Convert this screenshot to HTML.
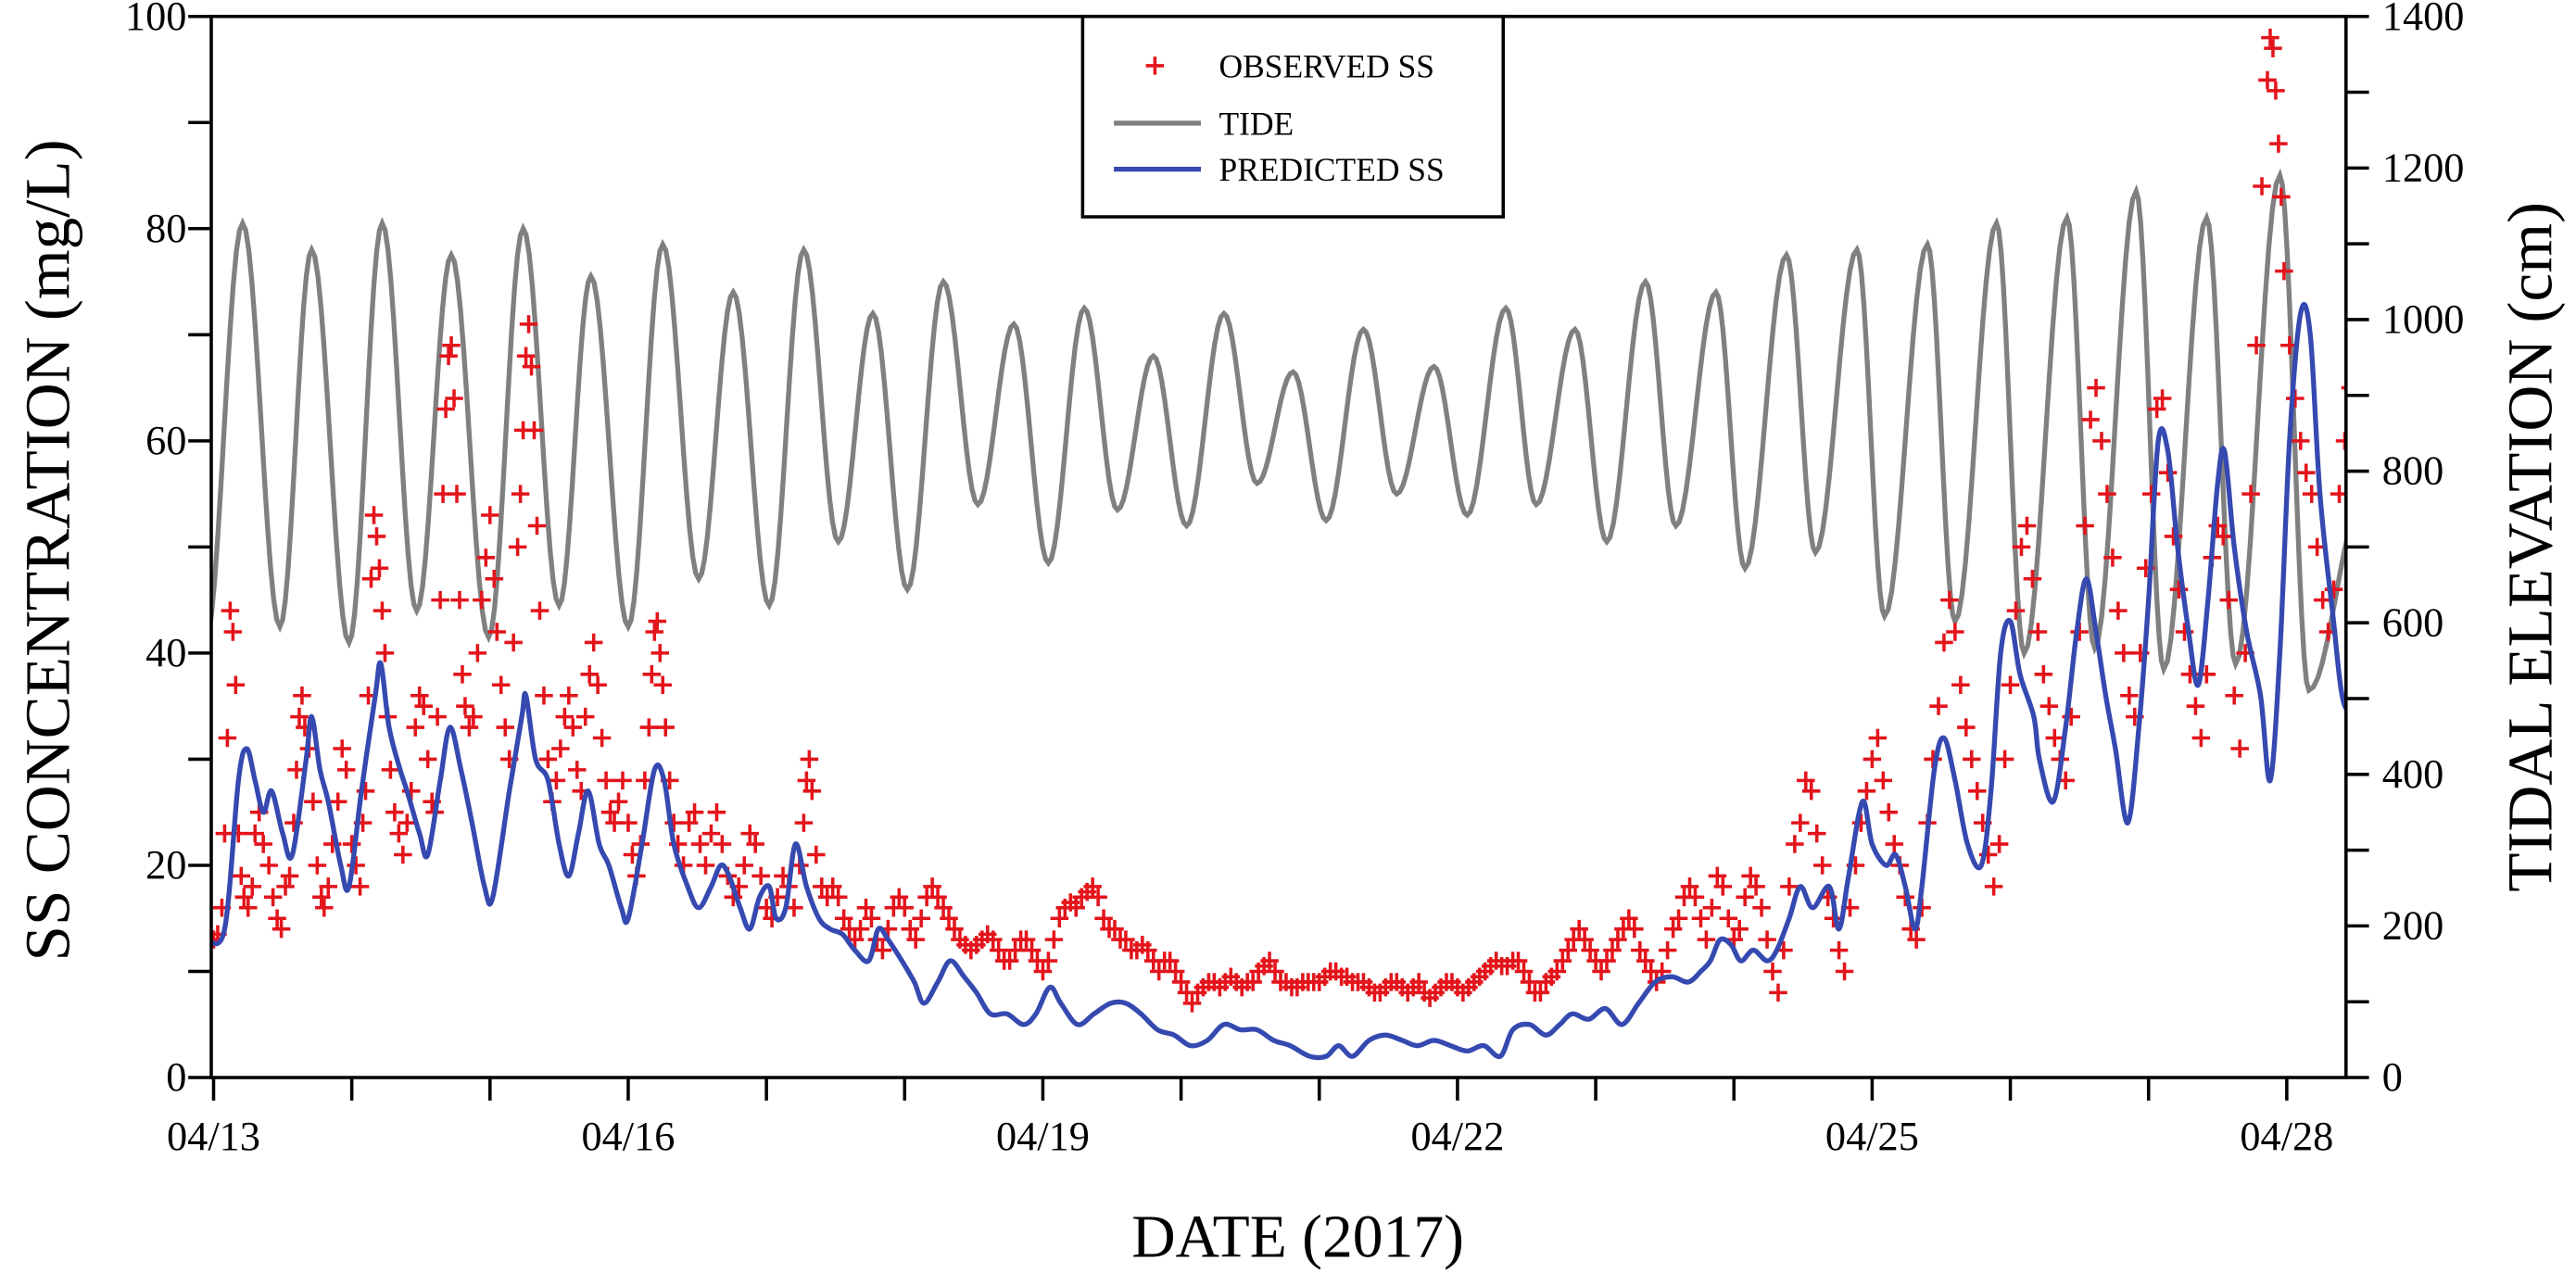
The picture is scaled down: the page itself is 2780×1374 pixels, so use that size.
<!DOCTYPE html>
<html><head><meta charset="utf-8"><style>
html,body{margin:0;padding:0;background:#fff;}
svg{display:block;font-family:"Liberation Serif",serif;}
</style></head><body>
<svg id="chart" xmlns="http://www.w3.org/2000/svg" width="2780" height="1374" viewBox="0 0 1568 775" preserveAspectRatio="none">
<g id="plot"></g>
</svg>
<script>
// ---- data ----
const xTickDays = [0,1,2,3,4,5,6,7,8,9,10,11,12,13,14,15];
const xTickLabels = ["04/13","","","04/16","","","04/19","","","04/22","","","04/25","","","04/28"];
const leftTicks = [0,10,20,30,40,50,60,70,80,90,100];
const leftTickLabels = ["0","","20","","40","","60","","80","","100"];
const rightTicks = [0,100,200,300,400,500,600,700,800,900,1000,1100,1200,1300,1400];
const rightTickLabels = ["0","","200","","400","","600","","800","","1000","","1200","","1400"];
const tideDays = [-0.06,0.21,0.48,0.71,0.98,1.22,1.47,1.72,1.99,2.24,2.50,2.73,3.00,3.25,3.51,3.76,4.02,4.27,4.52,4.77,5.02,5.28,5.53,5.79,6.04,6.30,6.54,6.80,7.04,7.31,7.55,7.81,8.05,8.32,8.56,8.83,9.07,9.35,9.57,9.85,10.08,10.36,10.58,10.87,11.08,11.38,11.59,11.89,12.09,12.40,12.60,12.90,13.10,13.41,13.61,13.91,14.11,14.42,14.63,14.95,15.16,15.55];
const tideCm = [574,1127,595,1092,574,1127,616,1085,581,1120,623,1057,595,1099,658,1036,623,1092,707,1008,644,1050,756,994,679,1015,749,952,728,1008,784,931,735,987,770,938,742,1015,756,987,707,1050,728,1036,672,1085,693,1092,609,1099,602,1127,560,1134,567,1169,539,1134,546,1190,511,760];
const predDays = [-0.05,0.08,0.18,0.24,0.3,0.36,0.42,0.5,0.57,0.67,0.71,0.77,0.83,0.92,0.98,1.07,1.17,1.21,1.27,1.35,1.4,1.49,1.55,1.64,1.71,1.79,1.87,1.96,2.02,2.14,2.23,2.26,2.33,2.42,2.5,2.57,2.64,2.71,2.79,2.86,2.95,3.0,3.1,3.19,3.26,3.33,3.43,3.51,3.6,3.67,3.73,3.81,3.88,3.95,4.02,4.07,4.14,4.21,4.29,4.38,4.46,4.55,4.64,4.74,4.81,4.88,4.98,5.07,5.14,5.24,5.33,5.43,5.52,5.62,5.74,5.86,5.95,6.05,6.13,6.25,6.37,6.49,6.6,6.71,6.83,6.95,7.07,7.19,7.31,7.43,7.55,7.67,7.79,7.93,8.05,8.14,8.24,8.36,8.48,8.6,8.71,8.83,8.95,9.07,9.19,9.31,9.4,9.52,9.64,9.74,9.83,9.95,10.07,10.19,10.31,10.43,10.55,10.67,10.76,10.83,10.9,10.98,11.05,11.14,11.24,11.31,11.4,11.48,11.57,11.69,11.76,11.83,11.93,12.0,12.1,12.17,12.24,12.31,12.36,12.45,12.52,12.6,12.69,12.79,12.86,12.93,13.0,13.07,13.17,13.21,13.31,13.4,13.48,13.55,13.62,13.69,13.76,13.85,13.93,14.0,14.07,14.14,14.21,14.29,14.36,14.43,14.5,14.55,14.62,14.71,14.81,14.88,14.95,15.02,15.1,15.17,15.24,15.33,15.42,15.55];
const predSS = [13,14,28,31,28,25,27,23,21,30,34,29,26,20,18,27,36,39,33,29,27,23,21,28,33,29,24,18,17,27,34,36,30,28,22,19,23,27,22,20,16,15,22,29,28,22,18,16,18,20,19,16,14,17,18,15,16,22,18,15,14,13.5,12,11,14,13,11,9,7,9,11,9.5,8,6,6,5,6,8.5,7,5,6,7,7,6,4.5,4,3,3.5,5,4.5,4.5,3.5,3,2,2,3,2,3.5,4,3.5,3,3.5,3,2.5,3,2,4.5,5,4,5,6,5.5,6.5,5,7,9,9.5,9,10,11,13,12.5,11,12,11,12,15,18,16,18,14,19,26,22,20,21,18,14,18,29,32,28,22,20,27,40,43,38,34,30,26,33,42,47,42,36,31,24,33,45,60,59,50,42,37,45,56,59,50,42,36,28,40,60,72,70,55,44,35,37];
const obsDays = [0.0,0.03,0.06,0.08,0.1,0.12,0.14,0.16,0.18,0.2,0.22,0.25,0.28,0.3,0.33,0.36,0.4,0.43,0.46,0.49,0.52,0.55,0.58,0.6,0.62,0.64,0.66,0.69,0.72,0.75,0.78,0.8,0.83,0.86,0.9,0.93,0.96,1.0,1.03,1.06,1.08,1.1,1.12,1.14,1.16,1.18,1.2,1.22,1.24,1.26,1.28,1.31,1.34,1.37,1.4,1.43,1.46,1.49,1.52,1.55,1.58,1.6,1.62,1.64,1.66,1.68,1.7,1.72,1.74,1.76,1.78,1.8,1.82,1.85,1.88,1.91,1.94,1.97,2.0,2.03,2.05,2.08,2.11,2.14,2.17,2.2,2.22,2.24,2.26,2.28,2.3,2.32,2.34,2.36,2.39,2.42,2.45,2.48,2.51,2.54,2.57,2.6,2.63,2.66,2.69,2.72,2.75,2.78,2.81,2.84,2.87,2.9,2.93,2.96,3.0,3.03,3.06,3.09,3.12,3.15,3.17,3.19,3.21,3.23,3.25,3.27,3.3,3.33,3.36,3.4,3.44,3.48,3.52,3.56,3.6,3.64,3.68,3.72,3.76,3.8,3.84,3.88,3.92,3.96,4.0,4.04,4.08,4.12,4.16,4.2,4.24,4.27,4.29,4.31,4.33,4.36,4.4,4.44,4.48,4.52,4.56,4.6,4.64,4.68,4.72,4.76,4.8,4.84,4.88,4.92,4.96,5.0,5.04,5.08,5.12,5.16,5.2,5.24,5.28,5.32,5.36,5.4,5.44,5.48,5.52,5.56,5.6,5.64,5.68,5.72,5.76,5.8,5.84,5.88,5.92,5.96,6.0,6.04,6.08,6.12,6.16,6.2,6.24,6.28,6.32,6.36,6.4,6.44,6.48,6.52,6.56,6.6,6.64,6.68,6.72,6.76,6.8,6.84,6.88,6.92,6.96,7.0,7.04,7.08,7.12,7.16,7.2,7.24,7.28,7.32,7.36,7.4,7.44,7.48,7.52,7.56,7.6,7.64,7.68,7.72,7.76,7.8,7.84,7.88,7.92,7.96,8.0,8.04,8.08,8.12,8.16,8.2,8.24,8.28,8.32,8.36,8.4,8.44,8.48,8.52,8.56,8.6,8.64,8.68,8.72,8.76,8.8,8.84,8.88,8.92,8.96,9.0,9.04,9.08,9.12,9.16,9.2,9.24,9.28,9.32,9.36,9.4,9.44,9.48,9.52,9.56,9.6,9.64,9.68,9.72,9.76,9.8,9.84,9.88,9.92,9.96,10.0,10.04,10.08,10.12,10.16,10.2,10.24,10.28,10.32,10.36,10.4,10.44,10.48,10.52,10.56,10.6,10.64,10.68,10.72,10.76,10.8,10.84,10.88,10.92,10.96,11.0,11.04,11.08,11.12,11.16,11.2,11.24,11.28,11.32,11.36,11.4,11.44,11.48,11.52,11.56,11.6,11.64,11.68,11.72,11.76,11.8,11.84,11.88,11.92,11.96,12.0,12.04,12.08,12.12,12.16,12.2,12.24,12.28,12.32,12.36,12.4,12.44,12.48,12.52,12.56,12.6,12.64,12.68,12.72,12.76,12.8,12.84,12.88,12.92,12.96,13.0,13.04,13.08,13.12,13.16,13.2,13.24,13.28,13.32,13.36,13.4,13.44,13.5,13.54,13.58,13.62,13.66,13.7,13.74,13.78,13.82,13.86,13.9,13.94,13.98,14.02,14.06,14.1,14.14,14.18,14.22,14.26,14.3,14.34,14.38,14.42,14.46,14.5,14.54,14.58,14.62,14.66,14.7,14.74,14.78,14.82,14.86,14.88,14.9,14.92,14.94,14.96,14.98,15.02,15.06,15.1,15.14,15.18,15.22,15.26,15.3,15.34,15.38,15.42,15.46,15.5];
const obsSS = [13,13.5,16,23,32,44,42,37,23,19,17,16,18,23,25,22,20,17,15,14,18,19,24,29,34,36,33,31,26,20,17,16,18,22,26,31,29,22,20,18,24,27,36,47,53,51,48,44,40,34,29,25,23,21,24,27,33,36,35,30,26,25,34,45,55,63,68,69,64,55,45,38,35,33,34,40,45,49,53,47,42,37,33,30,41,50,55,61,68,71,67,61,52,44,36,30,26,28,31,34,36,33,29,27,34,38,41,37,32,28,25,24,26,28,24,21,19,22,28,33,38,42,43,40,37,33,28,24,22,20,24,25,22,20,23,25,22,19,17,18,20,23,22,19,16,15,17,19,18,16,20,24,28,30,27,21,18,17,18,17,15,14,13,14,16,15,13,12,14,16,17,16,14,13,15,17,18,17,16,15,14,13,12.5,12,12.5,13,13.5,13,12,11,11,12,13,13,12,11,10,11,13,15,16,16.5,16,17,17.5,18,17,15,14,14,13,13,12,12,12.5,12,11,10,11,11,10,9,8,7,8,8.5,9,9,8.5,9,9.5,9,8.5,9,9,10,10.5,11,10,9,9,8.5,8.5,9,9,9,9,9.5,10,10,9.5,9.5,9,9,9,8.5,8,8,8.5,9,9,8.5,8,8.5,9,8,7.5,8,8.5,9,9,8.5,8,8.5,9,9.5,10,10.5,11,10.5,10.5,11,11,10,9,8,8,9,9.5,10,11,12,13,14,13,12,11,10,11,12,13,14,15,14,12,11,10,9,10,12,14,15,17,18,17,15,13,16,19,18,15,13,14,17,19,18,16,13,10,8,12,18,22,24,28,27,23,20,17,15,12,10,16,20,24,27,30,32,28,25,22,20,17,14,13,16,24,30,35,41,45,42,37,33,30,27,24,21,18,22,30,37,44,50,52,47,42,38,35,32,30,28,34,42,52,62,65,60,55,49,44,40,36,34,40,48,55,63,64,57,51,46,42,38,35,32,38,49,52,51,45,36,31,40,55,69,84,94,98,97,93,88,83,76,69,64,60,57,55,50,45,42,46,55,60,65,72];

// ---- scales ----
const L=128.6, R=1428, T=10, B=656;
const X0=130, PXDAY=84.13;
const X = d => X0 + d*PXDAY;
const YL = v => B - v/100*(B-T);
const YR = v => B - v/1400*(B-T);
const NS="http://www.w3.org/2000/svg";
const svg=document.getElementById('chart');
const plot=document.getElementById('plot');
function mk(tag, attrs, parent){const e=document.createElementNS(NS,tag);for(const k in attrs)e.setAttribute(k,attrs[k]);(parent||svg).appendChild(e);return e;}

const defs=mk('defs',{});
const cp=mk('clipPath',{id:'clip'},defs);
mk('rect',{x:L,y:T,width:R-L,height:B-T},cp);

// tide line: cosine-shaped segments between extrema
let td='';
for(let i=0;i<tideDays.length-1;i++){
  const d0=tideDays[i],d1=tideDays[i+1],v0=tideCm[i],v1=tideCm[i+1];
  for(let s=0;s<=12;s++){
    const f=s/12, d=d0+(d1-d0)*f, v=v0+(v1-v0)*(1-Math.cos(Math.PI*f))/2;
    td+=(i===0&&s===0?'M':'L')+X(d).toFixed(2)+','+YR(v).toFixed(2);
  }
}
const tide=mk('path',{d:td,fill:'none',stroke:'#808080','stroke-width':3,'clip-path':'url(#clip)'},plot);



// observed crosses
const obsG=mk('g',{stroke:'#e3141b','stroke-width':2,'clip-path':'url(#clip)'},plot);


for(let i=0;i<obsDays.length;i++){
  const cx=X(obsDays[i]), cy=YL(obsSS[i]);
  const p=mk('path',{d:`M${cx-5.5},${cy}H${cx+5.5}M${cx},${cy-5.5}V${cy+5.5}`},obsG);
  
  
}

// predicted line (smooth)
const pts=predDays.map((d,i)=>[X(d),YL(predSS[i])]);
let pd='M'+pts[0][0]+','+pts[0][1];
for(let i=0;i<pts.length-1;i++){
  const p0=pts[Math.max(0,i-1)],p1=pts[i],p2=pts[i+1],p3=pts[Math.min(pts.length-1,i+2)];
  const c1x=p1[0]+(p2[0]-p0[0])/6,c1y=p1[1]+(p2[1]-p0[1])/6;
  const c2x=p2[0]-(p3[0]-p1[0])/6,c2y=p2[1]-(p3[1]-p1[1])/6;
  pd+=`C${c1x},${c1y} ${c2x},${c2y} ${p2[0]},${p2[1]}`;
}
const pred=mk('path',{d:pd,fill:'none',stroke:'#3549b0','stroke-width':3,'clip-path':'url(#clip)'},plot);



// frame
const frame=mk('rect',{x:L,y:T,width:R-L,height:B-T,fill:'none',stroke:'#000','stroke-width':2});



leftTicks.forEach((v,i)=>{
  const y=YL(v);
  const t=mk('line',{x1:L-14,x2:L,y1:y,y2:y,stroke:'#000','stroke-width':2});
  
  
  if(leftTickLabels[i]){
    const tx=mk('text',{x:L-15,y:y+8,'text-anchor':'end','font-size':25});
    tx.textContent=leftTickLabels[i];
    
    
  }
});
rightTicks.forEach((v,i)=>{
  const y=YR(v);
  const t=mk('line',{x1:R,x2:R+14,y1:y,y2:y,stroke:'#000','stroke-width':2});
  
  
  if(rightTickLabels[i]){
    const tx=mk('text',{x:R+22,y:y+8,'text-anchor':'start','font-size':25});
    tx.textContent=rightTickLabels[i];
    
    
  }
});
xTickDays.forEach((d,i)=>{
  const x=X(d);
  const t=mk('line',{x1:x,x2:x,y1:B,y2:B+14,stroke:'#000','stroke-width':2});
  
  
  if(xTickLabels[i]){
    const tx=mk('text',{x:x,y:B+44,'text-anchor':'middle','font-size':25});
    tx.textContent=xTickLabels[i];
    
    
  }
});

// axis titles
const xt=mk('text',{x:790,y:765,'text-anchor':'middle','font-size':37});
xt.textContent='DATE (2017)';


const yl=mk('text',{x:0,y:0,'text-anchor':'middle','font-size':39,transform:'translate(42,335) rotate(-90)'});
yl.textContent='SS CONCENTRATION (mg/L)';


const yr=mk('text',{x:0,y:0,'text-anchor':'middle','font-size':39,transform:'translate(1553,333) rotate(-90)'});
yr.textContent='TIDAL ELEVATION (cm)';



// legend
const lg=mk('g',{});


mk('rect',{x:659,y:10,width:256,height:122,fill:'#fff',stroke:'#000','stroke-width':2},lg);
mk('path',{d:'M697.5,40H708.5M703,34.5V45.5',stroke:'#e3141b','stroke-width':2},lg);
mk('line',{x1:678,x2:731,y1:75,y2:75,stroke:'#808080','stroke-width':3},lg);
mk('line',{x1:678,x2:731,y1:103,y2:103,stroke:'#3549b0','stroke-width':3},lg);
[['OBSERVED SS',47,'legend-observed'],['TIDE',82,'legend-tide'],['PREDICTED SS',110,'legend-predicted']].forEach(a=>{
  const t=mk('text',{x:742,y:a[1],'font-size':20},lg);
  t.textContent=a[0];
  
  
});
</script>
</body></html>
